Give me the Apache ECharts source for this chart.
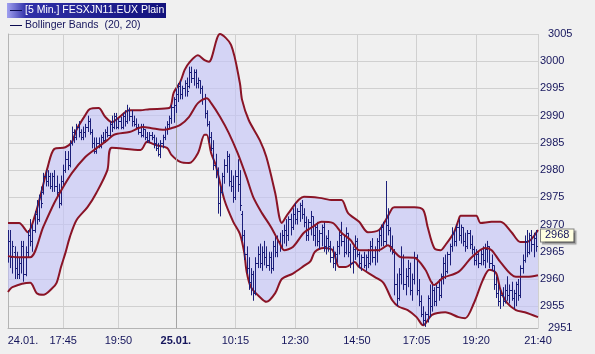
<!DOCTYPE html>
<html><head><meta charset="utf-8">
<script src="https://cdn.jsdelivr.net/npm/echarts@6/dist/echarts.min.js"></script>
<style>html,body{margin:0;padding:0;background:#f0f0f0}#c{width:595px;height:354px}</style>
</head><body><div id="c"></div>
<script>
// 5-minute bars, index 0 = 24.01. 15:40 ... index 240 = 25.01. 21:40
const barOpen=[
2965,2967,2964,2965,2962,2961,2963,2966,2961,2965,
2968,2967,2969,2972,2971,2975,2976,2979,2978,2979,
2977,2979,2977,2976,2974,2978,2980,2982,2981,2985,
2987,2986,2988,2987,2986,2987,2988,2989,2987,2985,
2983.5,2985,2984.5,2986,2985.5,2987,2986.5,2988.5,2988,2990,
2988,2989,2988,2990,2989,2991,2990,2989,2988.5,2988,
2987,2986.5,2987.5,2986,2985.5,2986.5,2986,2985,2984,2983,
2985,2986,2987.5,2988.5,2989.5,2991.5,2992,2994,2995.5,2994,
2995,2996,2995.5,2998,2997,2998,2996,2996.5,2995,2993,
2990.5,2988.5,2986,2984,2981,2980,2974,2976,2979,2981,
2982.5,2978,2977,2975,2979,2977.5,2972,2968,2964.5,2962,
2959.5,2961,2957.5,2963,2964.5,2963,2965,2964,2962.5,2964,
2962,2966,2965,2967,2966,2968,2969,2968,2971,2969.5,
2972,2971,2972.5,2973.5,2972,2970.5,2968,2970.5,2971.5,2968,
2969.5,2967,2968.5,2969.5,2966,2967.5,2966,2964,2963,2964.5,
2966,2968,2967,2965,2968.5,2965,2963,2965.5,2967,2964.5,
2963,2964,2962.5,2964,2963,2966,2964,2965.5,2967,2968,
2969.5,2967,2970,2969,2966,2965,2959,2956.5,2961,2964,
2959,2960.5,2962,2958,2960,2964,2958,2956,2953.5,2952.5,
2953.5,2956.5,2955,2958,2956,2958.5,2957,2960.5,2963,2961.5,
2964.5,2966,2968.5,2967,2969.5,2968,2969.5,2967,2966,2968.5,
2966.5,2965.5,2963.5,2964.5,2963,2964.5,2963.5,2965.5,2966,2963,
2962.5,2959,2957.5,2956,2957,2956,2958,2957,2958,2956.5,
2957.5,2959,2957,2962,2963.5,2967,2965,2968,2966.5,2967.5,
2966];
const barClose=[
2967,2964,2966,2962,2961,2963,2966,2961,2965,2968,
2967,2969,2972,2971,2975,2974,2979,2978,2979,2977,
2979,2977,2976,2974,2978,2980,2982,2981,2985,2987,
2986,2988,2987,2986,2987,2988,2989,2987,2985,2983.5,
2985,2984.5,2986,2985.5,2987,2986.5,2988.5,2988,2990,2988,
2989,2988,2990,2989,2991,2990,2989,2988.5,2988,2987,
2986.5,2987.5,2986,2985.5,2986.5,2986,2985,2984,2983,2985,
2986,2987.5,2988.5,2989.5,2991.5,2993,2994,2995.5,2994,2995,
2996,2994.5,2998,2997,2998,2996,2996.5,2995,2993,2990.5,
2988.5,2986,2984,2981,2980,2974,2976,2979,2981,2982.5,
2978,2977,2975,2979,2977.5,2973.5,2968,2964.5,2962,2959.5,
2961,2957.5,2963,2964.5,2963,2965,2964,2962.5,2964,2962,
2966,2965,2967,2966,2968,2969,2968,2971,2969.5,2972,
2971,2972.5,2973.5,2972,2970.5,2968,2970.5,2971.5,2968,2969.5,
2967,2968.5,2969.5,2966,2967.5,2966,2964,2963,2964.5,2966,
2968,2967,2965,2968.5,2965,2963,2965.5,2967,2964.5,2963,
2964,2962.5,2964,2963,2966,2964,2965.5,2967,2968,2969.5,
2967,2970,2969,2966,2965,2959,2956.5,2961,2964,2959,
2960.5,2962,2958,2960,2964,2958,2956,2953.5,2952.5,2953.5,
2956.5,2955,2958,2956,2958.5,2957,2960.5,2963,2961.5,2964.5,
2966,2968.5,2967,2969.5,2968,2969.5,2967,2966,2968.5,2966.5,
2965.5,2963.5,2964.5,2963,2964.5,2963.5,2965.5,2966,2963,2962.5,
2959,2957.5,2956,2957,2956,2958,2957,2958,2956.5,2957.5,
2959,2957,2962,2963.5,2967,2965,2968,2966.5,2967.5,2966,
2968];
const barLow=[
2963,2962,2961,2960,2960,2960,2961,2959.5,2960.5,2964,
2966,2965,2968.5,2970,2970.5,2973,2975.5,2977,2977,2976.5,
2976,2976,2975,2973,2973.5,2977,2979.5,2980,2980.5,2984.5,
2985,2985.5,2986,2985.5,2985.5,2986,2987,2986.5,2984,2983,
2983,2984,2984,2985,2985,2986,2986,2987,2987.5,2987.5,
2987.5,2987.5,2987.5,2988,2988.5,2989,2988,2988,2987.5,2986.5,
2986,2986,2985.5,2985,2985,2985.5,2984,2983.5,2982.5,2982.2,
2984,2985.5,2986.5,2987.5,2988.5,2988.7,2990.5,2992.5,2993,2993,
2993.5,2993.5,2995,2996,2995.5,2995,2995,2994,2992,2989.5,
2988,2985,2983.5,2980,2978.5,2972,2971.5,2975.5,2977.5,2979.5,
2977,2976,2974,2974.5,2976,2972.5,2967,2963.5,2961,2958,
2957,2956,2957,2962,2962,2961.5,2962.5,2962,2961.5,2961,
2961.5,2964,2964,2965,2965.5,2966.5,2966,2967,2968,2969,
2970,2970,2970.5,2971,2969.5,2967,2967,2968,2967,2966,
2966,2965.5,2966,2965,2964.5,2965,2963,2962,2961.5,2963,
2964.5,2966,2964,2964.5,2964,2962,2961,2963.5,2964,2962,
2961.5,2962,2961.5,2962,2962.5,2963,2962.5,2963,2965,2966,
2966,2966,2968,2965,2964.5,2957,2955,2956,2959,2958,
2957,2958.5,2957,2956,2959,2957,2955,2953,2951.5,2951.2,
2952,2953,2954,2955,2955,2956,2956.5,2959,2960,2961,
2962.5,2965,2966,2966,2967,2966.5,2966,2965,2965.5,2965.5,
2964.5,2962.5,2962.5,2962,2962.5,2962.5,2962,2963,2962,2961.5,
2958,2956.5,2955,2954.5,2955,2955.5,2956,2955.5,2956,2954.5,
2955,2956,2956.5,2961,2963,2964,2964.5,2965,2964,2965,
2965.5];
const barHigh=[
2969,2969,2967,2966,2965,2964,2967,2967,2966,2969,
2971,2970,2972.5,2974.5,2975.5,2977,2979.5,2980,2980,2979.5,
2979.5,2980,2979,2977.5,2979,2981,2983.5,2983.5,2985.5,2988,
2987.5,2988.5,2989,2987.5,2988,2988.5,2990,2989.5,2987.5,2986,
2986,2986,2986.5,2987,2987.5,2988,2989,2990,2990.5,2990.5,
2989.5,2989.8,2990.5,2991,2992,2991.5,2991,2990,2989.5,2988.5,
2988.5,2988.5,2987.5,2987,2987,2987,2986.5,2986,2985,2985.5,
2986.5,2988,2989,2990,2992,2993.4,2995,2996,2996.5,2995.5,
2996.5,2997,2999,2999,2998.5,2998.5,2997,2996.5,2995.5,2994,
2991,2989,2987,2985.5,2983,2980.5,2977,2979.5,2982,2983.5,
2983,2980,2979,2980,2982,2980,2972.5,2969,2966,2964,
2962,2961.5,2964,2966,2966.5,2966,2967,2966,2965,2965,
2967,2968,2968,2968.5,2969,2970,2971,2971.5,2972,2973,
2974,2973,2974,2974.5,2973,2971.5,2971,2972.5,2971.5,2970,
2970.5,2969,2970,2970.5,2968,2969,2967,2966,2965,2967,
2969,2970.5,2968,2969.5,2968.5,2966.5,2966,2968,2967.5,2965,
2964.5,2965,2964.5,2965.5,2967,2967.5,2966,2967.5,2969,2970,
2970.5,2978,2973,2969.5,2968,2965.5,2961,2962,2966,2964.5,
2962,2963.5,2963,2961,2965,2964.5,2960,2957,2955,2954,
2957,2959,2959.5,2958.5,2959,2960,2961,2964,2964.5,2965,
2966.5,2969.5,2969,2970,2971,2970,2969.5,2968.5,2969,2969,
2968,2966,2965.5,2965,2965.5,2966,2966.5,2967,2966,2964.5,
2962.5,2960.5,2959,2958,2958.5,2959,2960.5,2959,2959.5,2958,
2959.5,2960,2962.5,2964.5,2968,2969,2968.5,2969,2968.5,2969,
2969];
// Bollinger bands: [bar index, value]
const upperBand=[[0,2970.3],[5,2970.3],[9,2968.6],[12,2971.4],[15,2975.8],[18,2980.6],[21,2983.9],[26,2984.2],[29,2985.2],[31,2987.4],[35,2990.1],[37,2991.2],[41,2991.4],[44,2989.8],[47,2988.8],[50,2989.6],[55,2991.0],[60,2991.0],[64,2991.2],[73,2991.4],[75,2994.2],[78,2996.2],[80,2998.4],[82,2999.7],[86,3001.1],[89,3000.2],[91,2999.9],[96,3005.0],[101,3003.0],[105,2996.0],[106,2992.9],[109,2989.2],[114,2985.5],[117,2982.4],[121,2975.8],[124,2970.3],[127,2972.1],[134,2975.1],[141,2974.9],[147,2974.5],[151,2974.5],[154,2972.1],[159,2970.5],[163,2968.6],[168,2969.0],[171,2970.8],[174,2973.0],[175,2973.2],[184,2973.2],[188,2972.7],[190,2969.6],[193,2965.7],[196,2965.3],[198,2966.2],[202,2968.6],[204,2970.8],[205,2971.6],[212,2971.6],[214,2970.3],[219,2970.5],[223,2970.5],[228,2968.6],[232,2966.8],[235,2966.8],[240,2969.0]];
const middleBand=[[0,2964.2],[4,2964.0],[10,2964.0],[16,2969.6],[21,2974.0],[25,2976.9],[29,2979.5],[35,2982.4],[39,2983.7],[45,2985.5],[48,2986.5],[55,2987.0],[61,2987.9],[65,2987.7],[70,2987.4],[74,2987.7],[78,2988.3],[82,2989.8],[86,2992.3],[90,2993.2],[92,2992.3],[96,2989.8],[100,2986.8],[104,2983.1],[108,2978.7],[111,2975.1],[115,2972.1],[119,2969.6],[123,2966.6],[125,2965.3],[129,2965.9],[134,2968.5],[138,2969.6],[142,2970.5],[147,2970.3],[151,2968.5],[155,2967.2],[159,2965.3],[163,2965.3],[168,2965.3],[172,2966.2],[175,2965.0],[178,2964.0],[184,2963.9],[189,2961.7],[193,2958.9],[197,2960.2],[204,2961.3],[210,2964.0],[216,2965.7],[219,2965.3],[223,2963.1],[230,2960.4],[235,2960.4],[240,2960.7]];
const lowerBand=[[0,2957.6],[2,2958.5],[10,2959.3],[13,2957.4],[16,2957.1],[20,2958.3],[22,2959.3],[24,2962.2],[26,2964.8],[28,2967.7],[31,2970.8],[36,2973.2],[40,2975.8],[45,2980.0],[47,2984.1],[60,2983.7],[63,2985.2],[67,2984.6],[72,2984.1],[74,2982.8],[78,2981.5],[82,2981.3],[86,2983.1],[89,2986.5],[90,2986.5],[92,2983.1],[94,2981.0],[98,2974.5],[102,2970.5],[105,2968.3],[107,2964.8],[108,2961.5],[110,2958.5],[114,2956.7],[117,2955.8],[121,2957.4],[124,2960.0],[129,2961.0],[134,2962.4],[137,2963.3],[139,2965.0],[143,2965.7],[147,2965.3],[150,2962.2],[153,2962.2],[157,2963.1],[159,2962.2],[166,2960.4],[170,2959.3],[174,2956.1],[177,2954.9],[181,2954.3],[185,2953.0],[188,2951.5],[192,2953.4],[198,2953.9],[204,2953.0],[207,2952.8],[211,2955.6],[215,2959.8],[218,2961.7],[221,2961.1],[223,2958.0],[226,2955.6],[230,2954.3],[234,2953.9],[240,2953.0]];
const xTickIndex=[0,25,50,76,103,130,158,185,212,240];
const xTickLabels=['24.01.','17:45','19:50','25.01.','10:15','12:30','14:50','17:05','19:20','21:40'];
const dayBreakIndex=76;
const yTickValues=[2951,2955,2960,2965,2970,2975,2980,2985,2990,2995,3000,3005];
const lastPrice=2968;
const legendMain='[5 Min.] FESXJN11.EUX Plain';
const legendBands='Bollinger Bands  (20, 20)';

const TXT='#15155c';
const FONT='Liberation Sans';
const BAR='#1c1f7a';
const BAND='#8a1426';
const chart=echarts.init(document.getElementById('c'));
const ohlc=barOpen.map((o,i)=>[i,o,barClose[i],barLow[i],barHigh[i]]);

const option={
  backgroundColor:'#f0f0f0',
  animation:false,
  grid:{left:8,right:57,top:34,bottom:26},
  xAxis:{type:'value',min:0,max:240,
    axisLine:{show:true,lineStyle:{color:'#b4b4b4'}},
    axisTick:{show:false,customValues:xTickIndex},
    splitLine:{show:true,lineStyle:{color:'#d0d0d0',width:1}},
    axisLabel:{customValues:xTickIndex,color:TXT,fontSize:11,fontFamily:FONT,margin:7,
      formatter:function(v){const k=xTickIndex.indexOf(Math.round(v));const t=xTickLabels[k];
        if(k===0)return '{f|'+t+'}'; if(xTickIndex[k]===dayBreakIndex)return '{b|'+t+'}'; return t;},
      rich:{f:{padding:[0,0,0,30],color:TXT,fontSize:11,fontFamily:FONT},
            b:{fontWeight:'bold',color:TXT,fontSize:11,fontFamily:FONT}}}
  },
  yAxis:{type:'value',position:'right',min:2951,max:3005,
    axisLine:{show:true,lineStyle:{color:'#b4b4b4'}},
    axisTick:{show:false,customValues:yTickValues},
    splitLine:{show:true,lineStyle:{color:'#d0d0d0',width:1}},
    axisLabel:{customValues:yTickValues,color:TXT,fontSize:11,fontFamily:FONT,margin:2,
      formatter:function(v){return (v===yTickValues[0]||v===yTickValues[yTickValues.length-1])?'{e|'+v+'}':String(v);},
      rich:{e:{padding:[0,0,0,8],color:TXT,fontSize:11,fontFamily:FONT}}}
  },
  graphic:[
    {type:'rect',left:7,top:3,shape:{width:159,height:15},z:100,
     style:{fill:new echarts.graphic.LinearGradient(0,0,1,0,[{offset:0,color:'#a0a0f0'},{offset:0.12,color:'#3030a8'},{offset:1,color:'#12127c'}])}},
    {type:'line',shape:{x1:10,y1:10.5,x2:22,y2:10.5},style:{stroke:'#0a0a50',lineWidth:1},z:101},
    {type:'text',left:25,top:5,z:101,style:{text:legendMain,fill:'#ffffff',font:'10.5px "Liberation Sans"'}},
    {type:'line',shape:{x1:10,y1:25.5,x2:22,y2:25.5},style:{stroke:'#0a0a50',lineWidth:1},z:101},
    {type:'text',left:25,top:20,z:101,style:{text:legendBands,fill:TXT,font:'10.5px "Liberation Sans"'}}
  ],
  series:[
    {type:'custom',name:'fill',z:1,silent:true,clip:true,data:[[0,upperBand[0][1]]],
     renderItem:function(params,api){
       if(params.dataIndex!==0)return;
       const pts=upperBand.map(p=>api.coord(p)).concat(lowerBand.slice().reverse().map(p=>api.coord(p)));
       return {type:'polygon',shape:{points:pts},style:{fill:'rgba(196,196,248,0.62)'}};
     }},
    {type:'line',name:'upper',z:3,data:upperBand,showSymbol:false,silent:true,smooth:0.3,
     lineStyle:{color:BAND,width:2},
     markLine:{silent:true,symbol:'none',label:{show:false},lineStyle:{color:'#a4a4a4',width:1,type:'solid'},data:[{xAxis:dayBreakIndex}]}},
    {type:'line',name:'middle',z:6,data:middleBand,showSymbol:false,silent:true,smooth:0.3,lineStyle:{color:BAND,width:2},
     markLine:{silent:true,symbol:'none',lineStyle:{color:'rgba(0,0,0,0)',width:0},
       data:[{yAxis:lastPrice}],
       label:{show:true,position:'end',distance:3,formatter:'{c}',color:TXT,fontSize:11,fontFamily:FONT,
         backgroundColor:'#ffffe1',borderColor:'#808080',borderWidth:1,padding:[1,4,0,4],
         shadowColor:'rgba(0,0,0,0.35)',shadowOffsetX:2,shadowOffsetY:2,shadowBlur:1}}},
    {type:'line',name:'lower',z:3,data:lowerBand,showSymbol:false,silent:true,smooth:0.3,lineStyle:{color:BAND,width:2}},
    {type:'custom',name:'bars',z:5,silent:true,clip:true,data:ohlc,encode:{x:0,y:[1,2,3,4]},
     renderItem:function(params,api){
       const x=api.value(0);
       const po=api.coord([x,api.value(1)]),pc=api.coord([x,api.value(2)]);
       const pl=api.coord([x,api.value(3)]),ph=api.coord([x,api.value(4)]);
       const cx=Math.round(pl[0])+0.5;
       const st={stroke:BAR,lineWidth:1};
       return {type:'group',children:[
         {type:'line',shape:{x1:cx,y1:ph[1],x2:cx,y2:pl[1]},style:st},
         {type:'line',shape:{x1:cx-1.5,y1:Math.round(po[1])+0.5,x2:cx,y2:Math.round(po[1])+0.5},style:st},
         {type:'line',shape:{x1:cx,y1:Math.round(pc[1])+0.5,x2:cx+1.5,y2:Math.round(pc[1])+0.5},style:st}
       ]};
     }}
  ]
};
chart.setOption(option);
</script></body></html>
